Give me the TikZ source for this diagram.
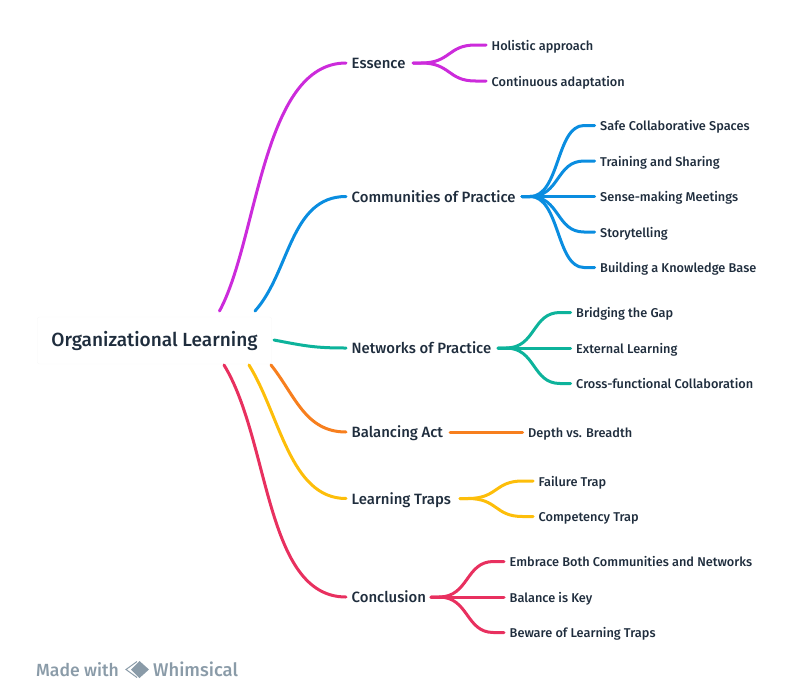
\documentclass[tikz,border=0pt]{standalone}
\usepackage{fontspec}
\setmainfont{Fira Sans Medium}
\usetikzlibrary{positioning,shadows}
\definecolor{inkc}{HTML}{1F2D3D}
\definecolor{greyc}{HTML}{8A9BA8}
\definecolor{essc}{HTML}{CC2BDB}
\definecolor{comc}{HTML}{0A8DE0}
\definecolor{netc}{HTML}{0DB39B}
\definecolor{balc}{HTML}{F77F1E}
\definecolor{trapc}{HTML}{FDBE0A}
\definecolor{conc}{HTML}{E8305F}
\tikzset{
  topic/.style={anchor=west, inner sep=0pt, text height=14pt, text depth=3pt, text=inkc, font=\fontsize{14.9}{16}\selectfont},
  leaf/.style={anchor=west, inner sep=0pt, text height=13pt, text depth=3pt, text=inkc, font=\fontsize{12.75}{14}\selectfont},
  link/.style={line width=3pt, line cap=round},
}
\newcommand{\fanlink}[3]{%
  \draw [link, #3] (#1) -- +(8,0) .. controls +(30,0) and ([xshift=-44pt]#2.west) .. ([xshift=-16pt]#2.west) -- ([xshift=-5.5pt]#2.west);
}
\begin{document}
\begin{tikzpicture}[x=1pt, y=-1pt]
  \useasboundingbox (0,0) rectangle (800,696);

  \node (root) [draw=black!3, rounded corners=2pt, minimum width=234pt, minimum height=47pt, text=inkc, font=\fontsize{19.05}{20}\selectfont] at (154.5,340.5) {Organizational Learning};

  % start points on the root
  \coordinate (r1) at (219.5,311);
  \coordinate (r2) at (255,311);
  \coordinate (r3) at (274,340);
  \coordinate (r4) at (271,365);
  \coordinate (r5) at (249,365);
  \coordinate (r6) at (224,365);

  \node (essence) [topic] at (351.5,63) {Essence};
  \node (comm) [topic] at (351.5,196.5) {Communities of Practice};
  \node (netw) [topic] at (351.5,348) {Networks of Practice};
  \node (bal) [topic] at (351.5,432) {Balancing Act};
  \node (traps) [topic] at (351.5,498.5) {Learning Traps};
  \node (concl) [topic] at (351.5,597) {Conclusion};

  \draw [link, essc] (r1) .. controls (258,240) and (262,63) .. ([xshift=-5.5pt]essence.west);
  \draw [link, comc] (r2) .. controls (290,272) and (290,196.5) .. ([xshift=-5.5pt]comm.west);
  \draw [link, netc] (r3) .. controls (305,346) and (315,348) .. ([xshift=-5.5pt]netw.west);
  \draw [link, balc] (r4) .. controls (295,395) and (305,432) .. ([xshift=-5.5pt]bal.west);
  \draw [link, trapc] (r5) .. controls (280,415) and (290,498.5) .. ([xshift=-5.5pt]traps.west);
  \draw [link, conc] (r6) .. controls (270,440) and (265,597) .. ([xshift=-5.5pt]concl.west);

  % essence
  \node (e1) [leaf] at (491.5,45) {Holistic approach};
  \node (e2) [leaf] at (491.5,81) {Continuous adaptation};
  \coordinate (es) at (413,63);
  \foreach \n in {e1,e2} {\fanlink{es}{\n}{essc}}

  % communities
  \node (c1) [leaf] at (600,125.5) {Safe Collaborative Spaces};
  \node (c2) [leaf] at (600,161) {Training and Sharing};
  \node (c3) [leaf] at (600,196.5) {Sense-making Meetings};
  \node (c4) [leaf] at (600,232) {Storytelling};
  \node (c5) [leaf] at (600,267.5) {Building a Knowledge Base};
  \coordinate (cs) at (522,196.5);
  \foreach \n in {c1,c2,c4,c5} {\fanlink{cs}{\n}{comc}}
  \draw [link, comc] (cs) -- ([xshift=-5.5pt]c3.west);

  % networks
  \node (n1) [leaf] at (576,312.5) {Bridging the Gap};
  \node (n2) [leaf] at (576,348) {External Learning};
  \node (n3) [leaf] at (576,383.5) {Cross-functional Collaboration};
  \coordinate (ns) at (498,348);
  \foreach \n in {n1,n3} {\fanlink{ns}{\n}{netc}}
  \draw [link, netc] (ns) -- ([xshift=-5.5pt]n2.west);

  % balancing
  \node (b1) [leaf] at (528,432) {Depth vs. Breadth};
  \coordinate (bs) at (450,432);
  \draw [link, balc] (bs) -- ([xshift=-5.5pt]b1.west);

  % traps
  \node (t1) [leaf] at (538.5,481) {Failure Trap};
  \node (t2) [leaf] at (538.5,516.5) {Competency Trap};
  \coordinate (ts) at (460,498.5);
  \foreach \n in {t1,t2} {\fanlink{ts}{\n}{trapc}}

  % conclusion
  \node (k1) [leaf] at (509.5,561.5) {Embrace Both Communities and Networks};
  \node (k2) [leaf] at (509.5,597) {Balance is Key};
  \node (k3) [leaf] at (509.5,632.5) {Beware of Learning Traps};
  \coordinate (ks) at (431,597);
  \foreach \n in {k1,k3} {\fanlink{ks}{\n}{conc}}
  \draw [link, conc] (ks) -- ([xshift=-5.5pt]k2.west);

  % badge
  \node (made) [anchor=west, inner sep=0pt, text=greyc, font=\fontsize{17.6}{20}\selectfont] at (36,669.5) {Made with};
  \node (whim) [anchor=west, inner sep=0pt, text=greyc, font=\fontsize{18.4}{20}\selectfont] at (153,669.5) {Whimsical};
  \draw [greyc, line width=1pt] (137,661.5) -- (126,669.5) -- (137,677.5);
  \fill [greyc] (131,669.5) -- (139.5,661) -- (149,669.5) -- (139.5,678) -- cycle;
\end{tikzpicture}
\end{document}
